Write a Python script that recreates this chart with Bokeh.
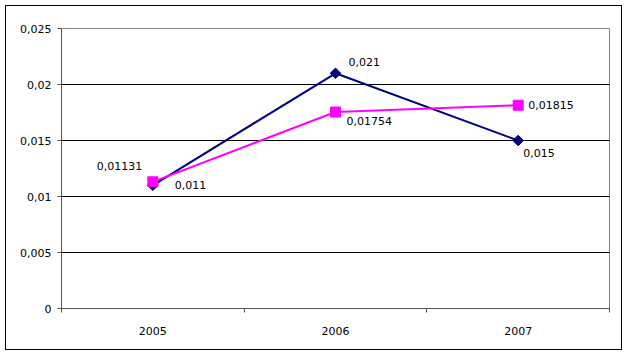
import numpy as np
from bokeh.plotting import figure
from bokeh.models import ColumnDataSource, FixedTicker, Range1d
from bokeh.core.properties import value
from bokeh.embed import file_html
from bokeh.resources import INLINE

categories = ["2005", "2006", "2007"]
series_a = [0.011, 0.021, 0.015]        # navy diamonds
series_b = [0.01131, 0.01754, 0.01815]  # magenta squares
y_ticks = [0, 0.005, 0.01, 0.015, 0.02, 0.025]
y_tick_labels = ["0", "0,005", "0,01", "0,015", "0,02", "0,025"]

# label placement (screen px)
a_dx = [22, 13, 5]
a_dy = [0, -11, 12]
b_dx = [-56, 11, 10]
b_dy = [-16, 9, 0]

FONT = "DejaVu Sans"
xs = [i + 0.5 for i in range(len(categories))]

def fmt(v):
    return str(v).replace(".", ",")

p = figure(width=625, height=354, output_backend="svg", toolbar_location=None,
           x_range=Range1d(0, len(categories)), y_range=Range1d(0, 0.025))
p.min_border_left = 61
p.min_border_right = 16
p.min_border_top = 28
p.min_border_bottom = 46
p.background_fill_color = "white"
p.border_fill_color = "white"
p.outline_line_color = "#808080"
p.outline_line_width = 1

# axes
p.xaxis.ticker = FixedTicker(ticks=xs, minor_ticks=list(range(len(categories) + 1)))
p.xaxis.major_label_overrides = {x: c for x, c in zip(xs, categories)}
p.xaxis.major_tick_line_color = None
p.xaxis.minor_tick_in = 0
p.xaxis.minor_tick_out = 4
p.xaxis.minor_tick_line_color = "#555555"
p.xaxis.axis_line_color = "#555555"
p.xaxis.major_label_standoff = 12
p.yaxis.ticker = FixedTicker(ticks=y_ticks)
p.yaxis.major_label_overrides = {t: l for t, l in zip(y_ticks, y_tick_labels)}
p.yaxis.major_tick_in = 0
p.yaxis.major_tick_out = 4
p.yaxis.minor_tick_line_color = None
p.yaxis.major_tick_line_color = "#555555"
p.yaxis.axis_line_color = "#555555"
p.yaxis.major_label_standoff = 6
for ax in (p.xaxis, p.yaxis):
    ax.major_label_text_font = FONT
    ax.major_label_text_font_size = "11px"
    ax.major_label_text_color = "black"

p.xgrid.grid_line_color = None
p.ygrid.ticker = FixedTicker(ticks=y_ticks[1:-1])
p.ygrid.grid_line_color = "black"
p.ygrid.grid_line_width = 1

src_a = ColumnDataSource(dict(x=xs, y=series_a, t=[fmt(v) for v in series_a], dx=a_dx, dy=a_dy))
src_b = ColumnDataSource(dict(x=xs, y=series_b, t=[fmt(v) for v in series_b], dx=b_dx, dy=b_dy))

p.line("x", "y", source=src_a, line_color="#000080", line_width=2)
p.scatter("x", "y", source=src_a, marker="square", angle=np.pi / 4, size=7.5,
          fill_color="#000080", line_color="#000080")
p.line("x", "y", source=src_b, line_color="#FF00FF", line_width=2)
p.scatter("x", "y", source=src_b, marker="square", size=10,
          fill_color="#FF00FF", line_color="#FF00FF")

for src in (src_a, src_b):
    p.text("x", "y", text="t", source=src, x_offset="dx", y_offset="dy",
           text_font=value(FONT), text_font_size="11px", text_color="black",
           text_align="left", text_baseline="middle")

# outer chart border
p.stylesheets = [
    ":host { position: relative; }"
    ":host::after { content: ''; position: absolute; left: 5px; top: 5px; "
    "width: 617px; height: 345px; border: 1px solid black; box-sizing: border-box; "
    "pointer-events: none; z-index: 10; }"
]

open("out.html", "w").write(file_html(p, INLINE))
